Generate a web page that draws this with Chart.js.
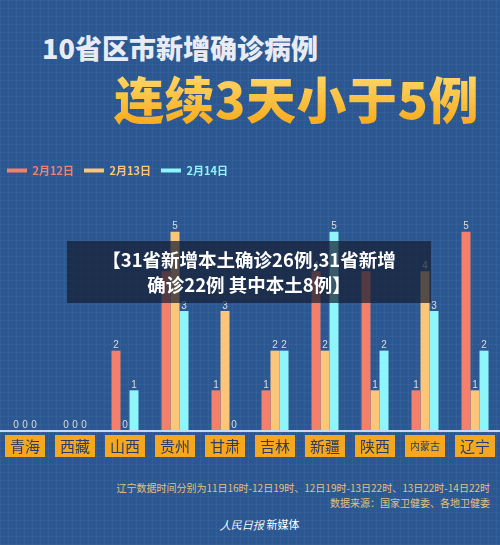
<!DOCTYPE html>
<html><head><meta charset="utf-8">
<script src="https://cdn.jsdelivr.net/npm/chart.js@4"></script>
<style>
body{margin:0;width:500px;height:545px;background:#2b5892;position:relative;overflow:hidden;font-family:"Noto Sans CJK SC","Noto Sans",sans-serif;
 background-image:linear-gradient(rgba(255,255,255,0.03) 1px,transparent 1px),linear-gradient(90deg,rgba(255,255,255,0.03) 1px,transparent 1px);background-size:8px 8px}
.t1{position:absolute;left:42px;top:28px;font-size:27px;font-weight:900;color:#e8ecf2}
.t2{position:absolute;left:114px;top:61px;font-size:50px;font-weight:900;letter-spacing:0.5px;
 background:linear-gradient(#ffe27a,#f6a410);-webkit-background-clip:text;color:transparent}
#wrap{position:absolute;left:0;top:155px;width:500px;height:315px}
.banner{position:absolute;left:67px;top:241px;width:364px;height:62px;background:rgba(22,30,50,0.72);color:#fff;font-weight:bold;font-size:18.5px;text-align:center;line-height:25px;padding-top:6px;box-sizing:border-box;white-space:nowrap}
.note{position:absolute;right:10px;top:480px;font-size:10px;color:#e5c07c;text-align:right;line-height:15px}
.logo{position:absolute;left:220px;top:516px;font-size:11px;color:#fff}
</style></head><body>
<div class="t1">10省区市新增确诊病例</div>
<div class="t2">连续3天小于5例</div>
<div id="wrap"><canvas id="c"></canvas></div>
<div class="banner">【31省新增本土确诊26例,31省新增<br>确诊22例 其中本土8例】</div>
<div class="note">辽宁数据时间分别为11日16时-12日19时、12日19时-13日22时、13日22时-14日22时<br>数据来源：国家卫健委、各地卫健委</div>
<div class="logo"><i style="font-family:serif">人民日报</i> 新媒体</div>
<script>
const provinces = ['青海','西藏','山西','贵州','甘肃','吉林','新疆','陕西','内蒙古','辽宁'];
const feb12 = [0,0,2,4,1,1,4,4,1,5];
const feb13 = [0,0,0,5,3,2,2,1,4,1];
const feb14 = [0,0,1,3,0,2,5,2,3,2];
const seriesNames = ['2月12日','2月13日','2月14日'];
const colors = ['#f4806c','#fbc67a','#8ef6fa'];

const decor = {
  id: 'decor',
  afterDatasetsDraw(chart) {
    const {ctx, chartArea, scales} = chart;
    ctx.save();
    ctx.strokeStyle = 'rgba(230,240,255,0.85)';
    ctx.lineWidth = 2;
    ctx.beginPath(); ctx.moveTo(0, chartArea.bottom + 1); ctx.lineTo(500, chartArea.bottom + 1); ctx.stroke();
    ctx.font = '10px "Liberation Sans", sans-serif';
    ctx.fillStyle = '#dcdcdc';
    ctx.textAlign = 'center';
    chart.data.datasets.forEach((ds, i) => {
      chart.getDatasetMeta(i).data.forEach((bar, j) => {
        ctx.fillText(ds.data[j], bar.x, bar.y - 5);
      });
    });
    provinces.forEach((p, j) => {
      const x = scales.x.getPixelForValue(j);
      const y = chartArea.bottom + 5;
      ctx.fillStyle = '#f5a81f';
      ctx.fillRect(x - 20, y, 40, 22);
      ctx.fillStyle = '#2a3a6a';
      ctx.font = (p.length > 2 ? '10px' : '15px') + ' "Noto Sans CJK SC"';
      ctx.textBaseline = 'middle';
      ctx.fillText(p, x, y + 11);
      ctx.textBaseline = 'alphabetic';
    });
    ctx.restore();
  }
};

new Chart(document.getElementById('c'), {
  type: 'bar',
  data: {
    labels: provinces,
    datasets: [feb12, feb13, feb14].map((d, i) => ({
      label: seriesNames[i], data: d, backgroundColor: colors[i],
      categoryPercentage: 0.54, barPercentage: 1
    }))
  },
  options: {
    responsive: true, maintainAspectRatio: false, animation: false,
    layout: { padding: { left: -3, right: 0, bottom: 40, top: 0 } },
    plugins: {
      tooltip: { enabled: false },
      legend: {
        align: 'start',
        labels: {
          boxWidth: 20, boxHeight: 4, padding: 10,
          font: { size: 11, weight: 'bold', family: '"Noto Sans CJK SC"' },
          generateLabels: chart => seriesNames.map((n, i) => ({
            text: n, fillStyle: colors[i], strokeStyle: colors[i], lineWidth: 0, fontColor: colors[i], datasetIndex: i
          }))
        }
      }
    },
    scales: {
      x: { display: false },
      y: { display: false, min: 0, max: 6.15 }
    }
  },
  plugins: [decor]
});
</script>
</body></html>
